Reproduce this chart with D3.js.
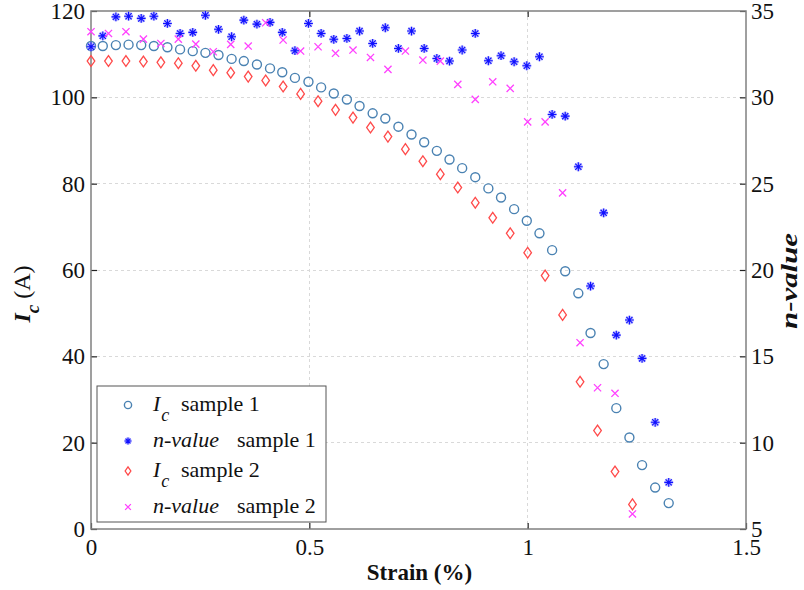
<!DOCTYPE html>
<html>
<head>
<meta charset="utf-8">
<script src="https://cdn.jsdelivr.net/npm/d3@7"></script>
<style>
  html, body { margin: 0; padding: 0; background: #fff; }
  svg { display: block; }
  text { font-family: "Liberation Serif", "Times New Roman", serif; fill: #111; }
</style>
</head>
<body>
<svg id="chart" width="804" height="590"></svg>
<script>
// Sample 1: strain (%), critical current Ic (A), n-value
const strain1 = [0, 0.027, 0.057, 0.086, 0.115, 0.144, 0.175, 0.204, 0.233, 0.262,
  0.292, 0.322, 0.350, 0.380, 0.410, 0.438, 0.467, 0.498, 0.527, 0.556,
  0.586, 0.615, 0.645, 0.674, 0.704, 0.734, 0.763, 0.792, 0.821, 0.850,
  0.880, 0.910, 0.939, 0.969, 0.998, 1.027, 1.056, 1.086, 1.116, 1.144,
  1.174, 1.203, 1.233, 1.262, 1.292, 1.323];
const ic1 = [111.9, 111.9, 112.1, 112.2, 112.1, 111.9, 111.6, 111.1, 110.7, 110.3,
  109.8, 108.9, 108.4, 107.6, 106.7, 105.8, 104.5, 103.6, 102.3, 100.9,
  99.5, 98.0, 96.3, 95.1, 93.2, 91.4, 89.6, 87.6, 85.6, 83.6,
  81.5, 78.9, 76.8, 74.1, 71.4, 68.5, 64.6, 59.7, 54.6, 45.4,
  38.2, 28.0, 21.2, 14.8, 9.6, 6.0];
const n1 = [32.93, 33.56, 34.66, 34.70, 34.57, 34.70, 34.28, 33.70, 33.76, 34.75,
  33.94, 33.51, 34.47, 34.24, 34.34, 33.76, 32.70, 34.28, 33.70, 33.36,
  33.41, 33.84, 33.12, 34.03, 32.83, 33.84, 32.83, 32.25, 32.10, 32.74,
  33.70, 32.12, 32.41, 32.06, 31.83, 32.35, 29.01, 28.91, 25.98, 19.07,
  23.31, 16.23, 17.10, 14.88, 11.18, 7.70];

// Sample 2
const strain2 = [0, 0.04, 0.08, 0.12, 0.16, 0.20, 0.24, 0.28, 0.32, 0.36,
  0.40, 0.44, 0.48, 0.52, 0.56, 0.60, 0.64, 0.68, 0.72, 0.76,
  0.80, 0.84, 0.88, 0.92, 0.96, 1.00, 1.04, 1.08, 1.12, 1.16,
  1.20, 1.24];
const ic2 = [108.4, 108.4, 108.4, 108.3, 108.1, 107.9, 107.3, 106.3, 105.7, 104.8,
  103.9, 102.5, 100.8, 99.1, 97.1, 95.3, 93.0, 90.9, 88.0, 85.2,
  82.2, 79.1, 75.6, 72.1, 68.5, 64.0, 58.7, 49.6, 34.1, 22.8,
  13.3, 5.7];
const n2 = [33.80, 33.70, 33.80, 33.37, 33.12, 33.37, 33.08, 32.64, 33.07, 32.97,
  34.32, 33.32, 32.68, 32.93, 32.55, 32.74, 32.31, 31.62, 32.68, 32.16,
  32.10, 30.75, 29.88, 30.90, 30.52, 28.58, 28.58, 24.47, 15.79, 13.18,
  12.86, 5.87];

// Axis ticks
const xTicks = [0, 0.5, 1, 1.5];
const icTicks = [0, 20, 40, 60, 80, 100, 120];
const nTicks = [5, 10, 15, 20, 25, 30, 35];

const svg = d3.select("#chart");
const L = 91, R = 746, T = 11, B = 529;

const x = d3.scaleLinear().domain([0, 1.5]).range([L, R]);
const yIc = d3.scaleLinear().domain([0, 120]).range([B, T]);
const yN = d3.scaleLinear().domain([5, 35]).range([B, T]);

// dashed grid
const grid = svg.append("g").attr("stroke", "#d9d9d9").attr("stroke-width", 1)
  .attr("stroke-dasharray", "3,3").attr("shape-rendering", "crispEdges");
xTicks.slice(1, -1).forEach(v => grid.append("line")
  .attr("x1", x(v)).attr("x2", x(v)).attr("y1", T).attr("y2", B));
icTicks.slice(1, -1).forEach(v => grid.append("line")
  .attr("x1", L).attr("x2", R).attr("y1", yIc(v)).attr("y2", yIc(v)));

const tickFont = 23;
function styleAxis(g) {
  g.select(".domain").remove();
  g.selectAll(".tick line").attr("stroke", "#222").attr("stroke-width", 1.2);
  g.selectAll(".tick text").attr("font-size", tickFont).attr("fill", "#111");
}

// bottom axis (ticks point inward)
svg.append("g").attr("transform", `translate(0,${B})`)
  .call(d3.axisBottom(x).tickValues(xTicks).tickFormat(d => String(d))
    .tickSizeInner(-6).tickSizeOuter(0).tickPadding(10))
  .call(styleAxis);
// top ticks only
svg.append("g").attr("transform", `translate(0,${T})`)
  .call(d3.axisTop(x).tickValues(xTicks.slice(1, -1)).tickFormat("")
    .tickSizeInner(-6).tickSizeOuter(0))
  .call(styleAxis);
// left axis
svg.append("g").attr("transform", `translate(${L},0)`)
  .call(d3.axisLeft(yIc).tickValues(icTicks).tickFormat(d => String(d))
    .tickSizeInner(-6).tickSizeOuter(0).tickPadding(6))
  .call(styleAxis);
// right axis
svg.append("g").attr("transform", `translate(${R},0)`)
  .call(d3.axisRight(yN).tickValues(nTicks).tickFormat(d => String(d))
    .tickSizeInner(-6).tickSizeOuter(0).tickPadding(5))
  .call(styleAxis);

// plot frame
svg.append("rect").attr("x", L).attr("y", T).attr("width", R - L).attr("height", B - T)
  .attr("fill", "none").attr("stroke", "#808080").attr("stroke-width", 1.5);

// marker shapes
const starPath = "M-4.4,0H4.4M0,-4.4V4.4M-3.1,-3.1L3.1,3.1M-3.1,3.1L3.1,-3.1";
const crossPath = "M-3.6,-3.6L3.6,3.6M-3.6,3.6L3.6,-3.6";
const diamondPath = "M0,-5.4L3.8,0L0,5.4L-3.8,0Z";

const colCircle = "#4a82b2", colStar = "#1010ff", colDiamond = "#ff4a4a", colCross = "#ff40ff";

function drawCircle(g, cx, cy, r) {
  g.append("circle").attr("cx", cx).attr("cy", cy).attr("r", r)
    .attr("fill", "none").attr("stroke", colCircle).attr("stroke-width", 1.4);
}
function drawStar(g, cx, cy, s) {
  g.append("path").attr("d", starPath).attr("transform", `translate(${cx},${cy}) scale(${s})`)
    .attr("fill", "none").attr("stroke", "#a0a0ff").attr("stroke-width", 2.8 / s).attr("stroke-opacity", 0.7);
  g.append("path").attr("d", starPath).attr("transform", `translate(${cx},${cy}) scale(${s})`)
    .attr("fill", "none").attr("stroke", colStar).attr("stroke-width", 1.1 / s);
}
function drawDiamond(g, cx, cy, s) {
  g.append("path").attr("d", diamondPath).attr("transform", `translate(${cx},${cy}) scale(${s})`)
    .attr("fill", "none").attr("stroke", colDiamond).attr("stroke-width", 1.3 / s);
}
function drawCross(g, cx, cy, s) {
  g.append("path").attr("d", crossPath).attr("transform", `translate(${cx},${cy}) scale(${s})`)
    .attr("fill", "none").attr("stroke", colCross).attr("stroke-width", 1.3 / s);
}

const marks = svg.append("g");
strain1.forEach((s, i) => drawCircle(marks, x(s), yIc(ic1[i]), 4.5));
strain1.forEach((s, i) => drawStar(marks, x(s), yN(n1[i]), 1));
strain2.forEach((s, i) => drawDiamond(marks, x(s), yIc(ic2[i]), 1));
strain2.forEach((s, i) => drawCross(marks, x(s), yN(n2[i]), 1));

// legend
const lg = svg.append("g");
lg.append("rect").attr("x", 97).attr("y", 386).attr("width", 229).attr("height", 136)
  .attr("fill", "#fff").attr("stroke", "#555").attr("stroke-width", 1);
const rows = [405, 441, 471, 507];
drawCircle(lg, 128, rows[0], 3.6);
drawStar(lg, 128, rows[1], 0.8);
drawDiamond(lg, 128, rows[2], 0.75);
drawCross(lg, 128, rows[3], 0.8);

const legFont = 22;
function icLabel(y, label) {
  const t = lg.append("text").attr("x", 153).attr("y", y + 6).attr("font-size", legFont);
  t.append("tspan").attr("font-style", "italic").text("I");
  t.append("tspan").attr("font-style", "italic").attr("font-size", 18).attr("dy", 10).attr("dx", 1).text("c");
  lg.append("text").attr("x", 181).attr("y", y + 6).attr("font-size", legFont).text(label);
}
function nLabel(y, label) {
  lg.append("text").attr("x", 153).attr("y", y + 6).attr("font-size", legFont)
    .attr("font-style", "italic").text("n-value");
  lg.append("text").attr("x", 237).attr("y", y + 6).attr("font-size", legFont).text(label);
}
icLabel(rows[0], "sample 1");
nLabel(rows[1], "sample 1");
icLabel(rows[2], "sample 2");
nLabel(rows[3], "sample 2");

// axis titles
svg.append("text").attr("x", (L + R) / 2 + 1).attr("y", 580).attr("text-anchor", "middle")
  .attr("font-size", 23).attr("font-weight", "bold").text("Strain (%)");

const yt = svg.append("text").attr("transform", "translate(30,294) rotate(-90)")
  .attr("text-anchor", "middle").attr("font-size", 24);
yt.append("tspan").attr("font-weight", "bold").attr("font-style", "italic").text("I");
yt.append("tspan").attr("font-weight", "bold").attr("font-style", "italic")
  .attr("font-size", 19).attr("dy", 9).text("c");
yt.append("tspan").attr("dy", -9).text(" (A)");

svg.append("text").attr("transform", "translate(797,281) rotate(-90)")
  .attr("text-anchor", "middle").attr("font-size", 24)
  .attr("textLength", 96).attr("lengthAdjust", "spacingAndGlyphs")
  .attr("font-weight", "bold").attr("font-style", "italic").text("n-value");
</script>
</body>
</html>
